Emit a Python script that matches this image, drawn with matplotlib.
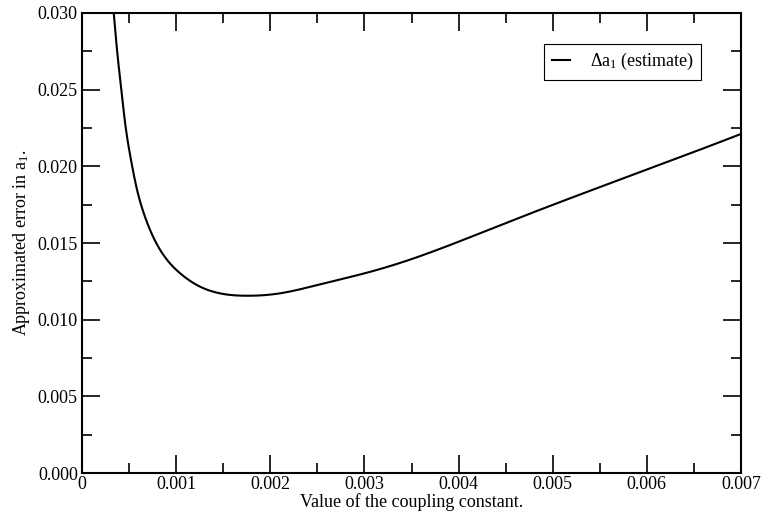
import numpy as np
import matplotlib
matplotlib.use("Agg")
import matplotlib.pyplot as plt
from matplotlib.ticker import MultipleLocator, FormatStrFormatter

plt.rcParams["font.family"] = ["Liberation Serif", "DejaVu Serif"]
plt.rcParams["mathtext.fontset"] = "custom"
plt.rcParams["mathtext.rm"] = "Liberation Serif"
plt.rcParams["mathtext.it"] = "Liberation Serif:italic"

# values
coupling = [0.000337, 0.000372, 0.000418, 0.000454, 0.000514, 0.000585, 0.000656,
            0.000865, 0.001043, 0.001220, 0.001433, 0.001752, 0.002106, 0.0025,
            0.003, 0.003312, 0.004447, 0.005511, 0.006557, 0.007]
error_a1 = [0.0300, 0.02759, 0.02498, 0.02302, 0.02063, 0.01846, 0.01694,
            0.01422, 0.01302, 0.01226, 0.01176, 0.01156, 0.01172, 0.01226,
            0.01302, 0.01357, 0.01617, 0.01867, 0.02107, 0.02211]


# natural cubic spline through the read points, just for a smooth line
def spline(x, y, xn):
    n = len(x)
    h = np.diff(x)
    A = np.zeros((n, n))
    r = np.zeros(n)
    A[0, 0] = A[-1, -1] = 1
    for i in range(1, n - 1):
        A[i, i - 1] = h[i - 1]
        A[i, i] = 2 * (h[i - 1] + h[i])
        A[i, i + 1] = h[i]
        r[i] = 6 * ((y[i + 1] - y[i]) / h[i] - (y[i] - y[i - 1]) / h[i - 1])
    M = np.linalg.solve(A, r)
    i = np.clip(np.searchsorted(x, xn) - 1, 0, n - 2)
    a = x[i + 1] - xn
    b = xn - x[i]
    return (M[i] * a**3 + M[i + 1] * b**3) / (6 * h[i]) + (y[i] / h[i] - M[i] * h[i] / 6) * a \
        + (y[i + 1] / h[i] - M[i + 1] * h[i] / 6) * b


xs = np.array(coupling)
ys = np.array(error_a1)
xf = np.linspace(xs[0], xs[-1], 800)
yf = spline(xs, ys, xf)

fig = plt.figure(figsize=(7.61, 5.15), dpi=100)
ax = fig.add_axes([82 / 761, 42 / 515, 659 / 761, 460 / 515])

ax.plot(xf, yf, color="black", lw=1.5, label="Δa$_1$ (estimate)")

ax.set_xlim(0, 0.007)
ax.set_ylim(0, 0.030)
ax.xaxis.set_major_locator(MultipleLocator(0.001))
ax.xaxis.set_minor_locator(MultipleLocator(0.0005))
ax.yaxis.set_major_locator(MultipleLocator(0.005))
ax.yaxis.set_minor_locator(MultipleLocator(0.0025))
ax.yaxis.set_major_formatter(FormatStrFormatter("%.3f"))
ax.xaxis.set_major_formatter(lambda v, p: "0" if v == 0 else "%.3f" % v)
ax.tick_params(which="both", direction="in", top=True, right=True, labelsize=13, width=1.2)
ax.tick_params(which="major", length=13, pad=3)
ax.tick_params(axis="x", which="major", pad=2)
ax.tick_params(which="minor", length=7)
for s in ax.spines.values():
    s.set_linewidth(1.5)

ax.set_xlabel("Value of the coupling constant.", fontsize=13, labelpad=0)
ax.set_ylabel("Approximated error in a$_1$.", fontsize=13, labelpad=4)

leg = ax.legend(loc="upper right", bbox_to_anchor=(701 / 761, 1 - 44 / 515), bbox_transform=fig.transFigure,
                fontsize=13, fancybox=False, framealpha=1, edgecolor="black",
                handlelength=1.0, handletextpad=1.1, borderpad=0.4, borderaxespad=0)
leg.get_frame().set_linewidth(0.8)

fig.savefig("out.png", dpi=100)
